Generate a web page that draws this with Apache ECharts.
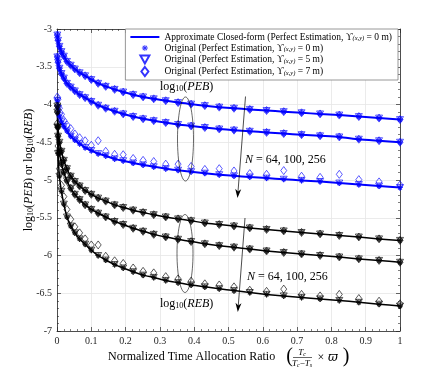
<!DOCTYPE html>
<html><head><meta charset="utf-8">
<script src="https://cdn.jsdelivr.net/npm/echarts@6/dist/echarts.min.js"></script>
<style>html,body{margin:0;padding:0;background:#fff}#c{width:443px;height:372px}</style>
</head><body><div id="c"></div>
<script>
// x: normalized time allocation ratio (marker positions)
const X = [0.001,0.003,0.007,0.013,0.020,0.029,0.040,0.052,0.066,0.082,0.100,0.120,0.142,0.168,0.193,0.222,0.251,0.282,0.317,0.353,0.391,0.431,0.473,0.516,0.562,0.611,0.661,0.713,0.767,0.823,0.880,0.939,1.000];
// log10(PEB)
const PEB_N64  = [-3.08,-3.15,-3.23,-3.30,-3.36,-3.43,-3.48,-3.53,-3.58,-3.62,-3.67,-3.72,-3.76,-3.80,-3.835,-3.87,-3.90,-3.925,-3.95,-3.975,-3.995,-4.015,-4.035,-4.05,-4.065,-4.08,-4.095,-4.11,-4.125,-4.14,-4.16,-4.18,-4.20];
const PEB_N100 = [-3.37,-3.44,-3.52,-3.59,-3.65,-3.72,-3.77,-3.82,-3.87,-3.91,-3.96,-4.01,-4.05,-4.09,-4.125,-4.16,-4.19,-4.215,-4.24,-4.265,-4.285,-4.305,-4.325,-4.34,-4.355,-4.37,-4.385,-4.40,-4.415,-4.43,-4.46,-4.48,-4.50];
const PEB_N256 = [-3.95,-4.05,-4.15,-4.23,-4.29,-4.35,-4.42,-4.47,-4.52,-4.57,-4.61,-4.65,-4.68,-4.72,-4.745,-4.775,-4.80,-4.825,-4.85,-4.87,-4.89,-4.91,-4.93,-4.945,-4.96,-4.975,-4.99,-5.005,-5.02,-5.04,-5.06,-5.08,-5.10];
const PEB_N256_U7 = [-3.90,-3.93,-4.05,-4.13,-4.21,-4.27,-4.32,-4.39,-4.44,-4.48,-4.54,-4.48,-4.62,-4.66,-4.665,-4.715,-4.74,-4.755,-4.79,-4.79,-4.82,-4.86,-4.85,-4.88,-4.915,-4.925,-4.875,-4.95,-4.965,-4.925,-4.995,-5.025,-5.065];
// log10(REB)
const REB_N64  = [-4.02,-4.30,-4.50,-4.62,-4.74,-4.85,-4.95,-5.02,-5.08,-5.14,-5.19,-5.24,-5.28,-5.33,-5.365,-5.40,-5.43,-5.46,-5.49,-5.515,-5.54,-5.57,-5.59,-5.61,-5.635,-5.655,-5.675,-5.695,-5.715,-5.735,-5.755,-5.78,-5.80];
const REB_N100 = [-4.10,-4.42,-4.64,-4.78,-4.90,-5.01,-5.11,-5.19,-5.26,-5.33,-5.39,-5.44,-5.49,-5.55,-5.59,-5.64,-5.68,-5.72,-5.755,-5.785,-5.815,-5.845,-5.87,-5.89,-5.915,-5.94,-5.96,-5.98,-6.00,-6.02,-6.045,-6.065,-6.09];
const REB_N256 = [-4.30,-4.65,-4.95,-5.15,-5.32,-5.49,-5.61,-5.70,-5.78,-5.85,-5.93,-6.00,-6.06,-6.12,-6.165,-6.215,-6.26,-6.29,-6.33,-6.36,-6.39,-6.415,-6.44,-6.465,-6.49,-6.515,-6.535,-6.555,-6.575,-6.595,-6.62,-6.645,-6.67];
const REB_N256_U7 = [-4.25,-4.55,-4.85,-5.07,-5.22,-5.39,-5.52,-5.62,-5.70,-5.78,-5.86,-5.86,-6.01,-6.07,-6.105,-6.165,-6.21,-6.23,-6.28,-6.31,-6.34,-6.375,-6.39,-6.415,-6.46,-6.475,-6.445,-6.515,-6.535,-6.515,-6.57,-6.605,-6.64];
const X_MIN = 0, X_MAX = 1, Y_MIN = -7, Y_MAX = -3;

const SERIF = 'Liberation Serif';
const BLUE = '#0000ff', BLACK = '#000000', AX = '#262626';
const ASTER = 'path://M-16,-16L-16,-16L-16,-16Z M16,16L16,16L16,16Z M-2,-10L2,-10L2,10L-2,10Z M-10,-2L10,-2L10,2L-10,2Z M-5.6,-8.4L8.4,5.6L5.6,8.4L-8.4,-5.6Z M-8.4,5.6L5.6,-8.4L8.4,-5.6L-5.6,8.4Z';
// legend icons drawn in a 29x9 box
const BOX = 'M0,0L0,0Z M29,9L29,9Z ';
const ICON_LINE = 'path://' + BOX + 'M0,3.6L29,3.6L29,5.4L0,5.4Z';
const ICON_ASTER = 'path://' + BOX + 'M14.1,1.5L14.9,1.5L14.9,7.5L14.1,7.5Z M11.5,4.1L17.5,4.1L17.5,4.9L11.5,4.9Z M12.68,2.12L16.88,6.32L16.32,6.88L12.12,2.68Z M12.12,6.32L16.32,2.12L16.88,2.68L12.68,6.88Z';
const ICON_TRI = 'path://' + BOX + 'M10,0.5L19,0.5L14.5,8.5Z';
const ICON_DIA = 'path://' + BOX + 'M14.5,0L18,4.5L14.5,9L11,4.5Z';

const pts = arr => X.map((x,i)=>[x,arr[i]]);
function group(line, dia, color, lw){
  return [
    {name:'A', type:'line', data:pts(line), symbol:'none', smooth:0.2, lineStyle:{color:color,width:lw}, itemStyle:{color:color}, z:2},
    {name:'O0', type:'scatter', data:pts(line), symbol:ASTER, symbolSize:9, itemStyle:{color:color,borderWidth:0}, z:3},
    {name:'O5', type:'scatter', data:pts(line), symbol:'triangle', symbolRotate:180, symbolSize:[7,6], itemStyle:{color:'transparent',borderColor:color,borderWidth:0.8}, z:3},
    {name:'O7', type:'scatter', data:pts(dia), symbol:'diamond', symbolSize:[6,8], itemStyle:{color:'transparent',borderColor:color,borderWidth:0.8}, z:3}
  ];
}
const series = [].concat(
  group(PEB_N64, PEB_N64, BLUE, 2),
  group(PEB_N100, PEB_N100, BLUE, 2),
  group(PEB_N256, PEB_N256_U7, BLUE, 2),
  group(REB_N64, REB_N64, BLACK, 1.5),
  group(REB_N100, REB_N100, BLACK, 1.5),
  group(REB_N256, REB_N256_U7, BLACK, 1.5)
);

const legendText = {
  A:'{t|Approximate Closed-form (Perfect Estimation, ϒ}{s|(x,y)}{t| = 0 m)}',
  O0:'{t|Original (Perfect Estimation, ϒ}{s|(x,y)}{t| = 0 m)}',
  O5:'{t|Original (Perfect Estimation, ϒ}{s|(x,y)}{t| = 5 m)}',
  O7:'{t|Original (Perfect Estimation, ϒ}{s|(x,y)}{t| = 7 m)}'
};

function axisCommon(){
  return {
    axisLine:{show:true,onZero:false,lineStyle:{color:AX,width:0.8}},
    axisTick:{show:true,inside:true,length:4,lineStyle:{color:AX,width:0.7}},
    minorTick:{show:true,splitNumber:5,length:2,lineStyle:{color:AX,width:0.6}},
  };
}
const fmt = v => String(+v.toFixed(2));

const chart = echarts.init(document.getElementById('c'), null, {renderer:'canvas'});
const subRich = {
  n:{fontFamily:SERIF,fontSize:12,color:'#000',lineHeight:16,verticalAlign:'bottom'},
  s:{fontFamily:SERIF,fontSize:8,color:'#000',lineHeight:12,verticalAlign:'bottom'},
  i:{fontFamily:SERIF,fontSize:12,fontStyle:'italic',color:'#000',lineHeight:16,verticalAlign:'bottom'}
};
const logTxt = w => '{n|log}{s|10}{n|(}{i|'+w+'}{n|)}';

function arrow(x1,y1,x2,y2){
  const dx=x2-x1, dy=y2-y1, L=Math.hypot(dx,dy), ux=dx/L, uy=dy/L, px=-uy, py=ux;
  const bx=x2-ux*9, by=y2-uy*9, ix=x2-ux*6.5, iy=y2-uy*6.5;
  return [
    {type:'line', shape:{x1:x1,y1:y1,x2:ix,y2:iy}, style:{stroke:'#000',lineWidth:0.7}, z:20},
    {type:'polygon', shape:{points:[[x2,y2],[bx+px*3,by+py*3],[ix,iy],[bx-px*3,by-py*3]]}, style:{fill:'#000'}, z:20}
  ];
}
const Ntext = '{i|N}{n| = 64, 100, 256}';
const fracRich = {
  i:{fontFamily:SERIF,fontSize:9,fontStyle:'italic',lineHeight:10,verticalAlign:'bottom'},
  n:{fontFamily:SERIF,fontSize:9,lineHeight:10,verticalAlign:'bottom'},
  s:{fontFamily:SERIF,fontSize:6,fontStyle:'italic',lineHeight:7,verticalAlign:'bottom'}
};
const graphic = [].concat(
  [{type:'ellipse', shape:{cx:185.5,cy:139,rx:8,ry:42}, style:{fill:'none',stroke:'#000',lineWidth:0.6}, z:20},
   {type:'ellipse', shape:{cx:185,cy:253.5,rx:8,ry:39}, style:{fill:'none',stroke:'#000',lineWidth:0.6}, z:20}],
  arrow(245.5,96.5,237.5,198),
  arrow(245,218,237.8,312),
  [{type:'text', x:160, y:85, style:{text:logTxt('PEB'), rich:subRich, align:'left', verticalAlign:'middle'}, z:20},
   {type:'text', x:160, y:302, style:{text:logTxt('REB'), rich:subRich, align:'left', verticalAlign:'middle'}, z:20},
   {type:'text', x:245, y:158, style:{text:Ntext, rich:subRich, align:'left', verticalAlign:'middle'}, z:20},
   {type:'text', x:247, y:275, style:{text:Ntext, rich:subRich, align:'left', verticalAlign:'middle'}, z:20},
   {type:'text', x:27, y:170, rotation:Math.PI/2, style:{text:'{n|log}{s|10}{n|(}{i|PEB}{n|) or log}{s|10}{n|(}{i|REB}{n|)}', rich:subRich, align:'center', verticalAlign:'middle'}, z:20},
   {type:'text', x:108, y:357, style:{text:'Normalized Time Allocation Ratio', font:'12px "Liberation Serif"', fill:'#000', align:'left', verticalAlign:'middle'}, z:20},
   {type:'text', x:289.5, y:357, style:{text:'(', font:'20px "Liberation Serif"', fill:'#000', align:'center', verticalAlign:'middle'}, z:20},
   {type:'text', x:302, y:352, style:{text:'{i|T}{s|c}', rich:fracRich, align:'center', verticalAlign:'middle'}, z:20},
   {type:'line', shape:{x1:293,y1:357.5,x2:312,y2:357.5}, style:{stroke:'#000',lineWidth:0.6}, z:20},
   {type:'text', x:302, y:363, style:{text:'{i|T}{s|c}{n|−}{i|T}{s|s}', rich:fracRich, align:'center', verticalAlign:'middle'}, z:20},
   {type:'text', x:321, y:357.5, style:{text:'×', font:'12px "Liberation Serif"', fill:'#000', align:'center', verticalAlign:'middle'}, z:20},
   {type:'text', x:333, y:358, style:{text:'ϖ', font:'italic 12px "DejaVu Serif"', fill:'#000', align:'center', verticalAlign:'middle'}, z:20},
   {type:'text', x:346, y:357, style:{text:')', font:'20px "Liberation Serif"', fill:'#000', align:'center', verticalAlign:'middle'}, z:20}
  ]
);

chart.setOption({
  animation:false,
  backgroundColor:'#ffffff',
  grid:{left:57,right:43,top:29,bottom:41,containLabel:false},
  legend:{
    orient:'vertical', right:45, top:29, itemWidth:29, itemHeight:9, itemGap:1,
    padding:[3,6,3,4], backgroundColor:'#ffffff', borderColor:'#7f7f7f', borderWidth:0.8,
    symbolRotate:0, selectedMode:false,
    data:[{name:'A',icon:ICON_LINE},{name:'O0',icon:ICON_ASTER},{name:'O5',icon:ICON_TRI},{name:'O7',icon:ICON_DIA}],
    formatter: n => legendText[n],
    textStyle:{fontFamily:SERIF,fontSize:9.5,color:'#000',
      rich:{t:{fontFamily:SERIF,fontSize:9.5,color:'#000',lineHeight:10,verticalAlign:'bottom'},
            s:{fontFamily:SERIF,fontSize:6.5,fontStyle:'italic',color:'#000',lineHeight:7,verticalAlign:'bottom'}}},
    z:10
  },
  xAxis:[
    Object.assign({type:'value',min:X_MIN,max:X_MAX,interval:0.1,position:'bottom',
      splitLine:{show:true,lineStyle:{color:'#e6e6e6',width:0.8}},
      axisLabel:{color:AX,fontFamily:SERIF,fontSize:10,margin:5,formatter:fmt}}, axisCommon()),
    Object.assign({type:'value',min:X_MIN,max:X_MAX,interval:0.1,position:'top',
      splitLine:{show:false},axisLabel:{show:false}}, axisCommon())
  ],
  yAxis:[
    Object.assign({type:'value',min:Y_MIN,max:Y_MAX,interval:0.5,position:'left',
      splitLine:{show:true,lineStyle:{color:'#e6e6e6',width:0.8}},
      axisLabel:{color:AX,fontFamily:SERIF,fontSize:10,margin:5,formatter:fmt}}, axisCommon()),
    Object.assign({type:'value',min:Y_MIN,max:Y_MAX,interval:0.5,position:'right',
      splitLine:{show:false},axisLabel:{show:false}}, axisCommon())
  ],
  series:series,
  graphic:graphic
});
</script></body></html>
